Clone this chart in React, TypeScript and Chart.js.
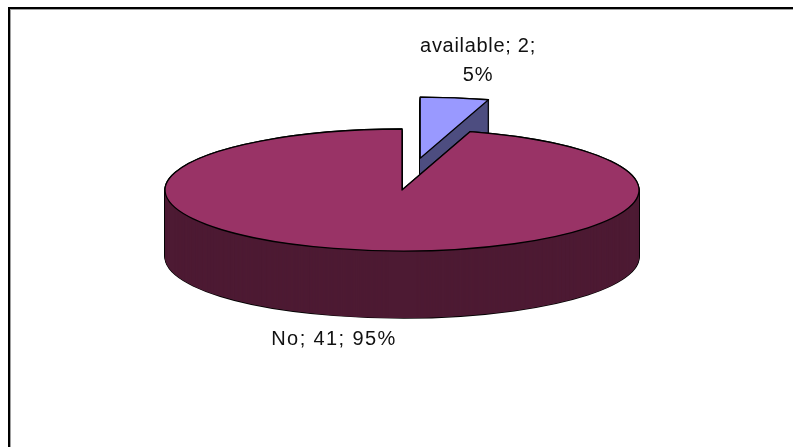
import React, { useEffect, useRef } from "react";
import { Chart, registerables } from "chart.js";

Chart.register(...registerables);

const categories = ["available", "No"];
const counts = [2, 41];
const explodeOffsets = [125, 0];
const topColors = ["#9999FF", "#993366"];
const sideColors = ["#4D4D80", "#4D1A33"];
const labelLines = [["available; 2;", "5%"], ["No; 41; 95%"]];
const labelAnchors = [
  { x: 478, y: 46, tracking: "0.7px" },
  { x: 334, y: 339, tracking: "1.4px" },
];

const TILT = 61 / 237;
const DEPTH = 67;

// Traces one slice as a flattened wedge, displaced along its bisector when exploded.
function wedgePath(ctx: CanvasRenderingContext2D, arc: any, offset: number, drop: number) {
  const mid = (arc.startAngle + arc.endAngle) / 2;
  const cx = arc.x + Math.cos(mid) * offset;
  const cy = arc.y + Math.sin(mid) * offset * TILT + drop;
  ctx.beginPath();
  ctx.moveTo(cx, cy);
  ctx.ellipse(cx, cy, arc.outerRadius, arc.outerRadius * TILT, 0, arc.startAngle, arc.endAngle);
  ctx.closePath();
}

const extrudedPie = {
  id: "extrudedPie",
  beforeDatasetsDraw(chart: any) {
    const { ctx } = chart;
    const arcs = chart.getDatasetMeta(0).data;

    // Panel edge along the top and the left
    ctx.save();
    ctx.fillStyle = "#000000";
    ctx.fillRect(8, 7, 785, 2);
    ctx.fillRect(8, 7, 2, 440);
    ctx.fillStyle = "#A0A0A0";
    ctx.fillRect(10, 9, 783, 1);
    ctx.fillRect(10, 9, 1, 438);
    ctx.restore();

    // Exploded slice goes first so the main body overlaps it
    arcs.forEach((arc: any, i: number) => {
      const offset = explodeOffsets[i];
      ctx.save();
      ctx.lineJoin = "round";
      ctx.strokeStyle = "#000000";
      ctx.lineWidth = 1.3;
      for (let d = DEPTH; d >= 0; d--) {
        wedgePath(ctx, arc, offset, d);
        ctx.stroke();
      }
      ctx.fillStyle = sideColors[i];
      for (let d = DEPTH; d >= 1; d--) {
        wedgePath(ctx, arc, offset, d);
        ctx.fill();
      }
      wedgePath(ctx, arc, offset, 0);
      ctx.fillStyle = topColors[i];
      ctx.fill();
      ctx.stroke();
      ctx.restore();
    });

    // Callouts
    ctx.save();
    ctx.fillStyle = "#111111";
    ctx.font = '20px "Liberation Sans"';
    ctx.textAlign = "center";
    ctx.textBaseline = "middle";
    labelLines.forEach((lines, i) => {
      ctx.letterSpacing = labelAnchors[i].tracking;
      lines.forEach((line, j) => {
        ctx.fillText(line, labelAnchors[i].x, labelAnchors[i].y + j * 29);
      });
    });
    ctx.restore();

    // Geometry comes from the controller; the flattened pie above replaces the flat draw
    return false;
  },
};

export default function App() {
  const ref = useRef<HTMLCanvasElement | null>(null);

  useEffect(() => {
    document.body.style.margin = "0";
    document.body.style.background = "#FFFFFF";
    const chart = new Chart(ref.current as HTMLCanvasElement, {
      type: "pie",
      data: {
        labels: categories,
        datasets: [{ data: counts, backgroundColor: topColors, borderWidth: 0, radius: 237 }],
      },
      options: {
        responsive: false,
        animation: false,
        rotation: 0,
        layout: { padding: 0 },
        plugins: { legend: { display: false }, tooltip: { enabled: false }, title: { display: false } },
      },
      plugins: [
        {
          id: "pieCentre",
          afterLayout(c: any) {
            // Pie centre sits above the canvas middle, leaving room for the rim
            c.chartArea.left = 402 - 396.5;
            c.chartArea.right = 402 + 396.5;
            c.chartArea.top = 190 - 223.5;
            c.chartArea.bottom = 190 + 223.5;
          },
        },
        extrudedPie,
      ],
    } as any);
    return () => chart.destroy();
  }, []);

  return <canvas ref={ref} width={793} height={447} style={{ display: "block" }} />;
}
